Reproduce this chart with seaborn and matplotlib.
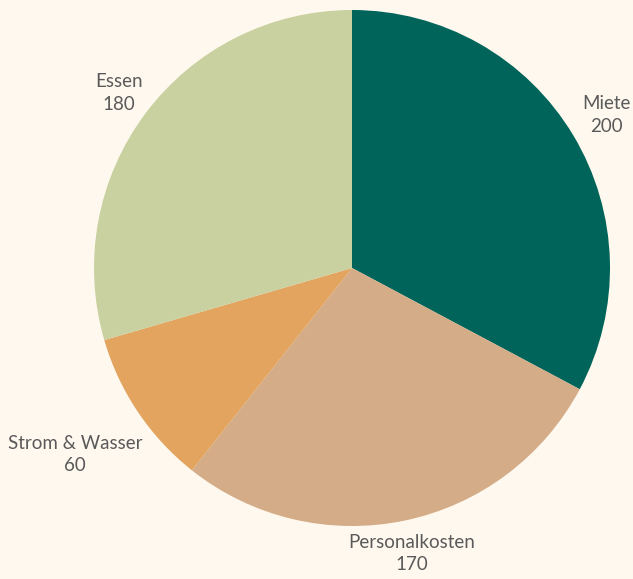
import numpy as np
import matplotlib
matplotlib.use("Agg")
import matplotlib.pyplot as plt
import seaborn as sns

categories = ["Miete", "Personalkosten", "Strom & Wasser", "Essen"]
values = [200, 170, 60, 180]
colors = ["#00645A", "#D4AC87", "#E2A45E", "#C9D1A1"]
label_dist = [1.15, 1.13, 1.295, 1.13]

sns.set_theme(style="white")
plt.rcParams["font.family"] = ["Lato", "DejaVu Sans"]

bg = "#FFF8EE"
W, H = 633, 579
fig = plt.figure(figsize=(W / 100, H / 100), dpi=100, facecolor=bg)
ax = fig.add_axes([0, 0, 1, 1])
ax.set_facecolor(bg)

cx, cy, R = 352, 268, 258
wedges, _ = ax.pie(values, colors=colors, startangle=90, counterclock=False,
                   radius=1, wedgeprops=dict(linewidth=0))
ax.set_xlim(-cx / R, (W - cx) / R)
ax.set_ylim(-(H - cy) / R, cy / R)
ax.set_aspect("auto")

for w, name, v, d in zip(wedges, categories, values, label_dist):
    mid = np.deg2rad((w.theta1 + w.theta2) / 2)
    ax.text(d * np.cos(mid), d * np.sin(mid), f"{name}\n{v}", ha="center",
            va="center", multialignment="center", fontsize=13.5,
            fontweight="normal", color="#5a5a5a", linespacing=1.4)

ax.axis("off")
fig.savefig("out.png", dpi=100, facecolor=bg)
